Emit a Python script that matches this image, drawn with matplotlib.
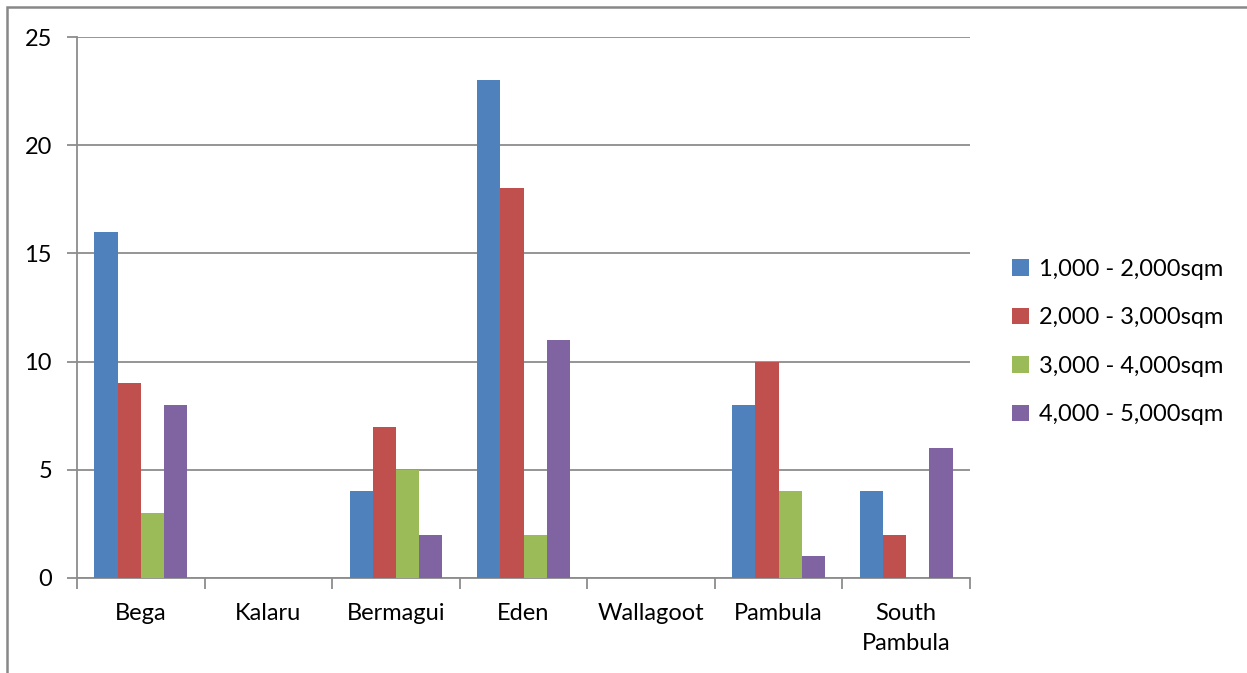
import matplotlib
matplotlib.use("Agg")
import matplotlib.pyplot as plt
import numpy as np
from matplotlib.patches import Rectangle

categories = ["Bega", "Kalaru", "Bermagui", "Eden", "Wallagoot", "Pambula", "South\nPambula"]
series_names = ["1,000 - 2,000sqm", "2,000 - 3,000sqm", "3,000 - 4,000sqm", "4,000 - 5,000sqm"]
s1 = [16, 0, 4, 23, 0, 8, 4]
s2 = [9, 0, 7, 18, 0, 10, 2]
s3 = [3, 0, 5, 2, 0, 4, 0]
s4 = [8, 0, 2, 11, 0, 1, 6]
colors = ["#4F81BD", "#C0504D", "#9BBB59", "#8064A2"]
yticks = [0, 5, 10, 15, 20, 25]

plt.rcParams['font.family'] = ['Lato', 'DejaVu Sans']

W, H = 1247, 673
fig = plt.figure(figsize=(W / 100, H / 100), dpi=100)
ax = fig.add_axes([77 / W, 1 - 578 / H, (970 - 77) / W, (578 - 37) / H])

grid_c = "#8C8C8C"
n = len(categories)
x = np.arange(n)
bw = 1 / 5.5
for i, (vals, c, name) in enumerate(zip([s1, s2, s3, s4], colors, series_names)):
    ax.bar(x + (i - 1.5) * bw, vals, width=bw, color=c, label=name, zorder=3,
           linewidth=0)

ax.set_xlim(-0.5, n - 0.5)
ax.set_ylim(0, 25)
ax.set_yticks(yticks)
ax.set_yticklabels([str(v) for v in yticks], fontsize=17)
ax.yaxis.grid(True, color=grid_c, linewidth=1.3, zorder=0)
ax.set_axisbelow(True)

ax.set_xticks(x)
ax.set_xticklabels(categories, fontsize=17, linespacing=1.55, va="top")
ax.tick_params(axis="x", which="major", length=0, pad=18)
ax.set_xticks(np.arange(-0.5, n, 1), minor=True)
ax.tick_params(axis="x", which="minor", length=8, width=1.3, color=grid_c)
ax.tick_params(axis="y", length=7, width=1.3, color=grid_c, pad=11)

for s in ["top", "right"]:
    ax.spines[s].set_visible(False)
for s in ["left", "bottom"]:
    ax.spines[s].set_color(grid_c)
    ax.spines[s].set_linewidth(1.3)

leg = fig.legend(loc="center left", bbox_to_anchor=(991 / W, 1 - 342 / H), frameon=False,
                 fontsize=17, handlelength=0.7, handleheight=0.7, handletextpad=0.45,
                 labelspacing=1.17)

fig.patches.append(Rectangle((7 / W, -0.1), 1.2, 1 - 7 / H + 0.1, transform=fig.transFigure,
                             fill=False, edgecolor="#888888", linewidth=1.8))

fig.savefig("out.png", dpi=100)
